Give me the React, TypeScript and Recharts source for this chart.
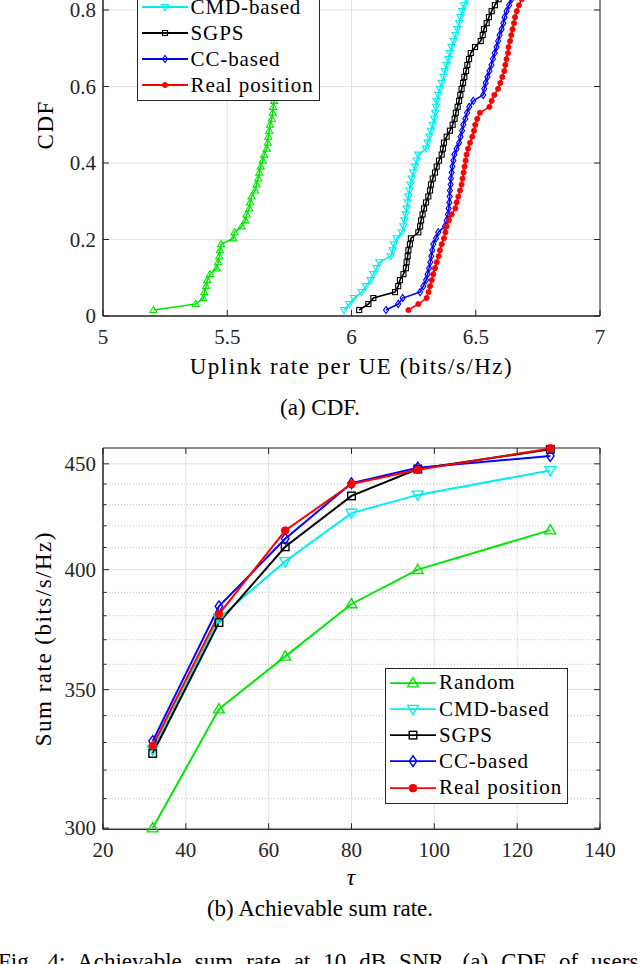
import { LineChart, Line, XAxis, YAxis, CartesianGrid, Legend, ReferenceLine, ReferenceArea } from 'recharts';

const SERIF = '"Liberation Serif", "Times New Roman", serif';
const INK = '#262626';
const GRID = '#e2e2e2';
const MINOR = '#c4c4c4';

// (a) CDF of the per-UE uplink rate, 64 users, sorted rates per scheme
const cdfLevels = [
  0.0156, 0.0313, 0.0469, 0.0625, 0.0781, 0.0938, 0.1094, 0.125, 0.1406, 0.1563, 0.1719, 0.1875, 0.2031, 0.2188, 0.2344, 0.25,
  0.2656, 0.2813, 0.2969, 0.3125, 0.3281, 0.3438, 0.3594, 0.375, 0.3906, 0.4063, 0.4219, 0.4375, 0.4531, 0.4688, 0.4844, 0.5,
  0.5156, 0.5313, 0.5469, 0.5625, 0.5781, 0.5938, 0.6094, 0.625, 0.6406, 0.6563, 0.6719, 0.6875, 0.7031, 0.7188, 0.7344, 0.75,
  0.7656, 0.7813, 0.7969, 0.8125, 0.8281, 0.8438, 0.8594, 0.875, 0.8906, 0.9063, 0.9219, 0.9375, 0.9531, 0.9688, 0.9844, 1.0,
];
const randomRate = [
  5.203, 5.373, 5.404, 5.408, 5.415, 5.42, 5.431, 5.457, 5.463, 5.468, 5.471, 5.475, 5.525, 5.529, 5.558, 5.573,
  5.578, 5.589, 5.592, 5.598, 5.612, 5.618, 5.625, 5.629, 5.635, 5.643, 5.649, 5.659, 5.663, 5.665, 5.669, 5.672,
  5.679, 5.683, 5.685, 5.689, 5.692, 5.695, 5.7, 5.705, 5.71, 5.715, 5.72, 5.73, 5.735, 5.74, 5.75, 5.755,
  5.76, 5.77, 5.78, 5.79, 5.8, 5.81, 5.82, 5.83, 5.84, 5.85, 5.87, 5.89, 5.91, 5.94, 5.97, 6.02,
];
const cmdRate = [
  5.97, 5.991, 6.01, 6.041, 6.058, 6.077, 6.088, 6.101, 6.112, 6.158, 6.166, 6.171, 6.182, 6.202, 6.209, 6.213,
  6.218, 6.222, 6.226, 6.229, 6.233, 6.238, 6.242, 6.249, 6.256, 6.262, 6.269, 6.3, 6.306, 6.313, 6.32, 6.327,
  6.333, 6.337, 6.34, 6.343, 6.349, 6.356, 6.363, 6.37, 6.376, 6.383, 6.39, 6.396, 6.403, 6.412, 6.419, 6.426,
  6.433, 6.439, 6.446, 6.453, 6.463, 6.47, 6.48, 6.49, 6.5, 6.52, 6.53, 6.55, 6.57, 6.6, 6.64, 6.7,
];
const sgpsRate = [
  6.031, 6.068, 6.088, 6.175, 6.188, 6.195, 6.209, 6.219, 6.222, 6.226, 6.229, 6.235, 6.239, 6.269, 6.276, 6.28,
  6.286, 6.292, 6.3, 6.309, 6.316, 6.32, 6.327, 6.336, 6.343, 6.352, 6.363, 6.368, 6.372, 6.383, 6.396, 6.407,
  6.415, 6.42, 6.427, 6.433, 6.438, 6.443, 6.449, 6.454, 6.461, 6.466, 6.473, 6.48, 6.497, 6.52, 6.528, 6.533,
  6.544, 6.553, 6.564, 6.577, 6.592, 6.6, 6.61, 6.62, 6.63, 6.64, 6.65, 6.67, 6.69, 6.71, 6.74, 6.78,
];
const ccRate = [
  6.139, 6.188, 6.206, 6.276, 6.289, 6.3, 6.306, 6.312, 6.317, 6.321, 6.325, 6.329, 6.34, 6.349, 6.376, 6.383,
  6.388, 6.391, 6.394, 6.395, 6.396, 6.399, 6.4, 6.403, 6.406, 6.41, 6.414, 6.423, 6.433, 6.439, 6.445, 6.45,
  6.458, 6.465, 6.474, 6.49, 6.53, 6.534, 6.54, 6.547, 6.555, 6.563, 6.569, 6.576, 6.584, 6.59, 6.596, 6.604,
  6.611, 6.616, 6.624, 6.634, 6.644, 6.65, 6.66, 6.67, 6.68, 6.69, 6.7, 6.72, 6.74, 6.76, 6.79, 6.83,
];
const realRate = [
  6.229, 6.269, 6.302, 6.31, 6.316, 6.323, 6.329, 6.336, 6.343, 6.351, 6.356, 6.363, 6.372, 6.378, 6.383, 6.392,
  6.403, 6.418, 6.423, 6.43, 6.437, 6.443, 6.447, 6.451, 6.455, 6.459, 6.463, 6.469, 6.477, 6.486, 6.493, 6.498,
  6.506, 6.517, 6.555, 6.564, 6.575, 6.59, 6.599, 6.607, 6.615, 6.619, 6.624, 6.63, 6.632, 6.638, 6.643, 6.648,
  6.654, 6.658, 6.665, 6.674, 6.685, 6.69, 6.7, 6.71, 6.72, 6.73, 6.75, 6.76, 6.78, 6.8, 6.83, 6.87,
];

// (b) achievable sum rate vs tau
const tauValues = [32, 48, 64, 80, 96, 128];
const randomSum = [300.0, 342.5, 363.2, 385.0, 400.0, 418.0];
const cmdSum = [327.3, 379.0, 403.7, 426.0, 434.7, 446.7];
const sgpsSum = [326.0, 377.1, 410.3, 434.2, 447.4, 457.3];
const ccSum = [330.5, 384.0, 414.0, 440.4, 448.1, 454.0];
const realSum = [328.8, 380.7, 417.8, 440.0, 447.0, 457.8];

const rateTicks = [5, 5.5, 6, 6.5, 7];
const cdfTicks = [0, 0.2, 0.4, 0.6, 0.8, 1];
const tauTicks = [20, 40, 60, 80, 100, 120, 140];
const sumTicks = [300, 350, 400, 450];
const sumMinorTicks = [310, 320, 330, 340, 360, 370, 380, 390, 410, 420, 430, 440];

type Kind = 'up' | 'down' | 'square' | 'diamond' | 'dot';

const schemes: { key: string; name: string; color: string; kind: Kind; rates: number[]; sums: number[] }[] = [
  { key: 'random', name: 'Random', color: '#00e600', kind: 'up', rates: randomRate, sums: randomSum },
  { key: 'cmd', name: 'CMD-based', color: '#00eeee', kind: 'down', rates: cmdRate, sums: cmdSum },
  { key: 'sgps', name: 'SGPS', color: '#000000', kind: 'square', rates: sgpsRate, sums: sgpsSum },
  { key: 'cc', name: 'CC-based', color: '#0000ff', kind: 'diamond', rates: ccRate, sums: ccSum },
  { key: 'real', name: 'Real position', color: '#ff0000', kind: 'dot', rates: realRate, sums: realSum },
];

const sumTable = tauValues.map((tau, i) => ({
  tau,
  random: randomSum[i],
  cmd: cmdSum[i],
  sgps: sgpsSum[i],
  cc: ccSum[i],
  real: realSum[i],
}));

// plot boxes in chart coordinates; each chart is placed at pageTop
const C1 = { top: 13.5, bottom: 396, left: 103, right: 600, h: 480, pageTop: -80 };
const C2 = { top: 48, bottom: 429.3, left: 103, right: 600, h: 520, pageTop: 400 };
type Box = typeof C1;

function Marker({ kind, cx, cy, color, s }: { kind: Kind; cx: number; cy: number; color: string; s: number }) {
  if (cx == null || cy == null) return null;
  const sw = s > 4 ? 1.4 : 1.1;
  if (kind === 'up')
    return <polygon points={`${cx},${cy - s} ${cx - s},${cy + s * 0.7} ${cx + s},${cy + s * 0.7}`} fill="none" stroke={color} strokeWidth={sw} />;
  if (kind === 'down')
    return <polygon points={`${cx},${cy + s} ${cx - s},${cy - s * 0.7} ${cx + s},${cy - s * 0.7}`} fill="none" stroke={color} strokeWidth={sw} />;
  if (kind === 'square') {
    const h = s * 0.7;
    return <rect x={cx - h} y={cy - h} width={2 * h} height={2 * h} fill="none" stroke={color} strokeWidth={sw} />;
  }
  if (kind === 'diamond')
    return <polygon points={`${cx},${cy - s} ${cx + s * 0.7},${cy} ${cx},${cy + s} ${cx - s * 0.7},${cy}`} fill="none" stroke={color} strokeWidth={sw} />;
  return <circle cx={cx} cy={cy} r={s * 0.72} fill={color} stroke={color} strokeWidth={0.8} />;
}

const dotFor = (s: (typeof schemes)[number], size: number) => (p: any) => (
  <Marker key={`${s.key}-${p.index}`} kind={s.kind} cx={p.cx} cy={p.cy} color={s.color} s={size} />
);

const tickText = { fontFamily: SERIF, fontSize: 21, fill: INK };

const makeXTick = (box: Box) => (p: any) => (
  <g>
    <line x1={p.x} x2={p.x} y1={box.bottom} y2={box.bottom - 6} stroke={INK} />
    <line x1={p.x} x2={p.x} y1={box.top} y2={box.top + 6} stroke={INK} />
    <text x={p.x} y={box.bottom + 27.5} textAnchor="middle" {...tickText}>
      {String(p.payload.value)}
    </text>
  </g>
);

const makeYTick = (box: Box) => (p: any) => (
  <g>
    <line x1={box.left} x2={box.left + 6} y1={p.y} y2={p.y} stroke={INK} />
    <line x1={box.right - 6} x2={box.right} y1={p.y} y2={p.y} stroke={INK} />
    <text x={box.left - 7} y={p.y + 7} textAnchor="end" {...tickText}>
      {String(p.payload.value)}
    </text>
  </g>
);

const minorShape = (p: any) => {
  const xa = Math.min(p.x1, p.x2);
  const xb = Math.max(p.x1, p.x2);
  const y = p.y1;
  return (
    <g>
      <line x1={xa} x2={xb} y1={y} y2={y} stroke={MINOR} strokeDasharray="1 2" />
      <line x1={xa} x2={xa + 3.5} y1={y} y2={y} stroke={INK} />
      <line x1={xb - 3.5} x2={xb} y1={y} y2={y} stroke={INK} />
    </g>
  );
};

function LegendBox({ rowH, size }: { rowH: number; size: number }) {
  return (
    <div style={{ background: '#fff', border: `1px solid ${INK}`, boxSizing: 'border-box', padding: '1px 0 2px 0' }}>
      {schemes.map((s) => (
        <div key={s.key} style={{ height: rowH, display: 'flex', alignItems: 'center' }}>
          <svg width={53} height={rowH} style={{ flex: 'none' }}>
            <line x1={4} x2={50} y1={rowH / 2} y2={rowH / 2} stroke={s.color} strokeWidth={1.8} />
            <Marker kind={s.kind} cx={27} cy={rowH / 2} color={s.color} s={size} />
          </svg>
          <span style={{ fontFamily: SERIF, fontSize: 21, letterSpacing: '0.9px', color: '#000', lineHeight: 1, whiteSpace: 'nowrap' }}>
            {s.name}
          </span>
        </div>
      ))}
    </div>
  );
}

const titleStyle = { fontFamily: SERIF, fontSize: 23, fill: '#000', letterSpacing: '1.5px' };

function CdfChart() {
  return (
    <LineChart width={640} height={C1.h} margin={{ top: C1.top, right: 640 - C1.right, bottom: 0, left: 0 }}>
      <CartesianGrid stroke={GRID} />
      <XAxis
        type="number"
        dataKey="x"
        domain={[5, 7]}
        ticks={rateTicks}
        interval={0}
        height={C1.h - C1.bottom}
        axisLine={{ stroke: INK }}
        tickLine={false}
        tickSize={0}
        tick={makeXTick(C1)}
        label={{ value: 'Uplink rate per UE (bits/s/Hz)', position: 'insideBottom', offset: 26, style: titleStyle }}
      />
      <YAxis
        type="number"
        domain={[0, 1]}
        ticks={cdfTicks}
        interval={0}
        width={C1.left}
        axisLine={{ stroke: INK }}
        tickLine={false}
        tickSize={0}
        tick={makeYTick(C1)}
        label={{ value: 'CDF', angle: -90, position: 'insideLeft', offset: 45, style: { ...titleStyle, textAnchor: 'middle' } }}
      />
      <ReferenceArea x1={5} x2={7} y1={0} y2={1} fill="none" stroke={INK} ifOverflow="visible" />
      {schemes.map((s) => (
        <Line
          key={s.key}
          data={s.rates.map((x, i) => ({ x, y: cdfLevels[i] }))}
          dataKey="y"
          name={s.name}
          stroke={s.color}
          strokeWidth={1.6}
          dot={dotFor(s, 3.6)}
          isAnimationActive={false}
        />
      ))}
      <Legend
        layout="vertical"
        align="center"
        verticalAlign="middle"
        wrapperStyle={{ left: 136.5, top: 46, width: 183 }}
        content={() => <LegendBox rowH={26} size={3.6} />}
      />
    </LineChart>
  );
}

function SumRateChart() {
  return (
    <LineChart width={640} height={C2.h} data={sumTable} margin={{ top: C2.top, right: 640 - C2.right, bottom: 0, left: 0 }}>
      <CartesianGrid stroke={GRID} />
      {sumMinorTicks.map((v) => (
        <ReferenceLine key={v} y={v} shape={minorShape} />
      ))}
      <XAxis
        type="number"
        dataKey="tau"
        domain={[20, 140]}
        ticks={tauTicks}
        interval={0}
        height={C2.h - C2.bottom}
        axisLine={{ stroke: INK }}
        tickLine={false}
        tickSize={0}
        tick={makeXTick(C2)}
        label={{ value: 'τ', position: 'insideBottom', offset: 35, style: { ...titleStyle, fontStyle: 'italic' } }}
      />
      <YAxis
        type="number"
        scale="log"
        domain={[299.6, 458]}
        ticks={sumTicks}
        interval={0}
        width={C2.left}
        axisLine={{ stroke: INK }}
        tickLine={false}
        tickSize={0}
        tick={makeYTick(C2)}
        label={{ value: 'Sum rate (bits/s/Hz)', angle: -90, position: 'insideLeft', offset: 43, style: { ...titleStyle, textAnchor: 'middle' } }}
      />
      <ReferenceArea x1={20} x2={140} y1={299.6} y2={458} fill="none" stroke={INK} ifOverflow="visible" />
      {schemes.map((s) => (
        <Line
          key={s.key}
          dataKey={s.key}
          name={s.name}
          stroke={s.color}
          strokeWidth={2}
          dot={dotFor(s, 5.4)}
          isAnimationActive={false}
        />
      ))}
      <Legend
        layout="vertical"
        align="center"
        verticalAlign="middle"
        wrapperStyle={{ left: 385, top: 267.7, width: 182.5 }}
        content={() => <LegendBox rowH={26.25} size={5.4} />}
      />
    </LineChart>
  );
}

const captionStyle = {
  position: 'absolute' as const,
  left: 0,
  width: 640,
  textAlign: 'center' as const,
  fontFamily: SERIF,
  fontSize: 23,
  lineHeight: '30px',
  color: '#000',
  whiteSpace: 'nowrap' as const,
};

export default function App() {
  return (
    <div style={{ position: 'absolute', left: 0, top: 0, width: 640, height: 964, overflow: 'hidden', background: '#fff' }}>
      <div style={{ position: 'absolute', left: 0, top: C1.pageTop }}>
        <CdfChart />
      </div>
      <div style={{ ...captionStyle, top: 392.8 }}>(a) CDF.</div>
      <div style={{ position: 'absolute', left: 0, top: C2.pageTop }}>
        <SumRateChart />
      </div>
      <div style={{ ...captionStyle, top: 893.8 }}>(b) Achievable sum rate.</div>
      <div style={{ ...captionStyle, top: 947, left: -2, width: 648, textAlign: 'justify', textAlignLast: 'justify' }}>
        Fig. 4: Achievable sum rate at 10 dB SNR. (a) CDF of users’
      </div>
    </div>
  );
}
